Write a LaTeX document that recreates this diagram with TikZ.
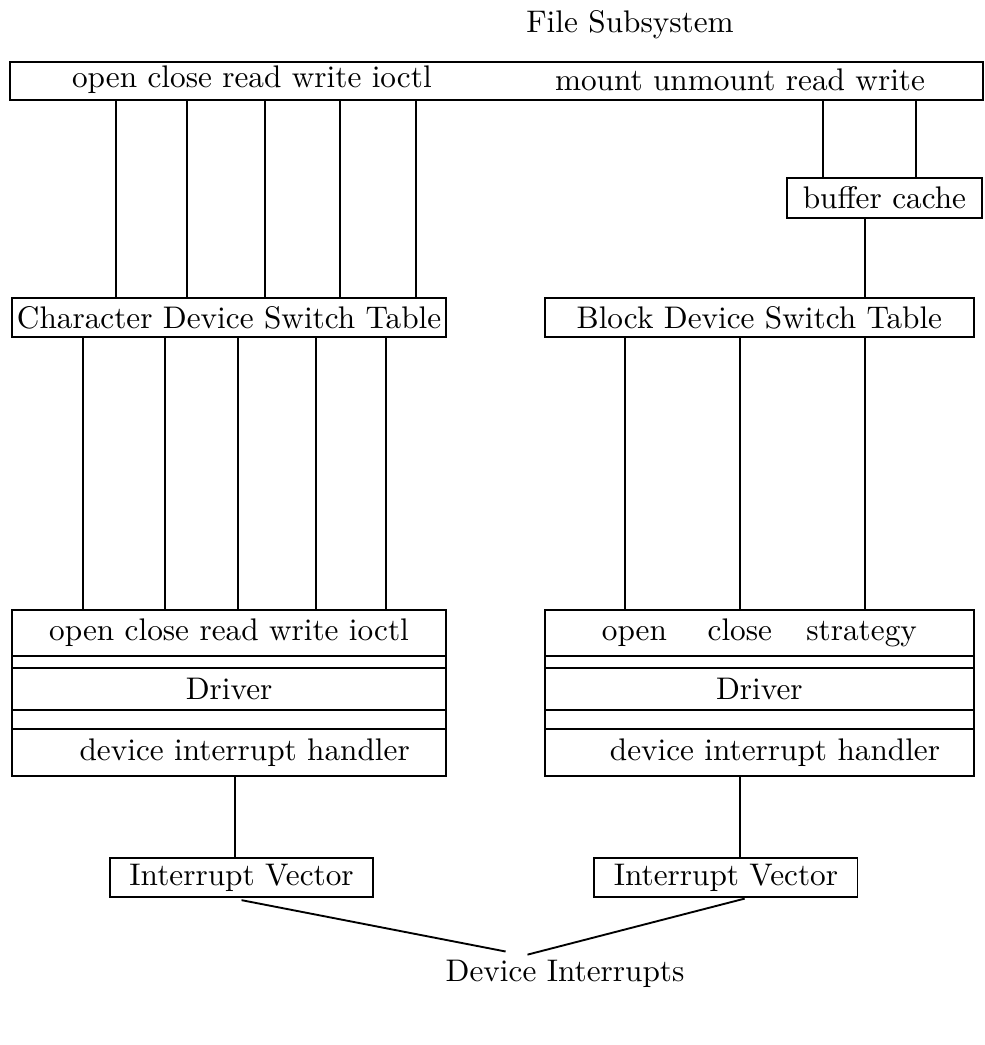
\documentclass[tikz,border=0pt]{standalone}
\usepackage{tikz}

\tikzset{
	box/.style={shape=rectangle,draw=black,inner sep=0pt,outer sep=0pt},
}

\begin{document}
\begin{tikzpicture}[x=1pt,y=1pt,line width=0.6pt]
	\useasboundingbox (0,0) rectangle (315,-334.4);
	\node (title) at (201.6,-8) {File Subsystem};
	\node [box,minimum width=311.4pt,minimum height=12.2pt] (fs) at (158.9,-25.9) {};
	\node (fschar) at (80.6,-25.6) {open close read write ioctl};
	\node (fsblock) at (236.8,-25.6) {mount unmount read write};
	\node [box,minimum width=62.4pt,minimum height=12.8pt] (bc) at (283.0,-63.4) {buffer cache};
	\node [box,minimum width=138.9pt,minimum height=12.5pt] (cdst) at (73.3,-101.6) {Character Device Switch Table};
	\node [box,minimum width=137.3pt,minimum height=12.5pt] (bdst) at (243.0,-101.6) {Block Device Switch Table};

	% character driver
	\node [box,minimum width=138.9pt,minimum height=14.9pt] (cops) at (73.3,-202.6) {open close read write ioctl};
	\node [box,minimum width=138.9pt,minimum height=13.4pt] (cdrv) at (73.3,-220.5) {Driver};
	\node [box,minimum width=138.9pt,minimum height=15.0pt] (chand) at (73.3,-240.8) {\hspace{10pt}device interrupt handler};
	\draw (cops.south west) -- (chand.north west);
	\draw (cops.south east) -- (chand.north east);

	% block driver
	\node [box,minimum width=137.3pt,minimum height=14.9pt] (bops) at (243.0,-202.6) {open\hspace{13pt}close\hspace{11pt}strategy};
	\node [box,minimum width=137.3pt,minimum height=13.4pt] (bdrv) at (243.0,-220.5) {Driver};
	\node [box,minimum width=137.3pt,minimum height=15.0pt] (bhand) at (243.0,-240.8) {\hspace{10pt}device interrupt handler};
	\draw (bops.south west) -- (bhand.north west);
	\draw (bops.south east) -- (bhand.north east);

	\node [box,minimum width=84.2pt,minimum height=12.5pt] (civ) at (77.3,-280.8) {Interrupt Vector};
	\node [box,minimum width=84.2pt,minimum height=12.5pt] (biv) at (232.3,-280.8) {Interrupt Vector};
	\node (di) at (180.8,-311.5) {Device Interrupts};

	\foreach \x in {37.1,59.8,84.8,108.8,133.1}
		\draw (\x,0 |- fs.south) -- (\x,0 |- cdst.north);
	\foreach \x in {263.4,293.1}
		\draw (\x,0 |- fs.south) -- (\x,0 |- bc.north);
	\draw (276.8,0 |- bc.south) -- (276.8,0 |- bdst.north);

	\foreach \x in {26.6,52.8,76.2,101.1,123.5}
		\draw (\x,0 |- cdst.south) -- (\x,0 |- cops.north);
	\foreach \x in {200,236.8,276.8}
		\draw (\x,0 |- bdst.south) -- (\x,0 |- bops.north);

	\draw (75.2,0 |- chand.south) -- (75.2,0 |- civ.north);
	\draw (236.8,0 |- bhand.south) -- (236.8,0 |- biv.north);

	\draw ([yshift=-1pt]civ.south) -- ([xshift=-19pt,yshift=-1pt]di.north);
	\draw ([xshift=6pt,yshift=-0.5pt]biv.south) -- ([xshift=-12pt,yshift=-2pt]di.north);
\end{tikzpicture}
\end{document}
